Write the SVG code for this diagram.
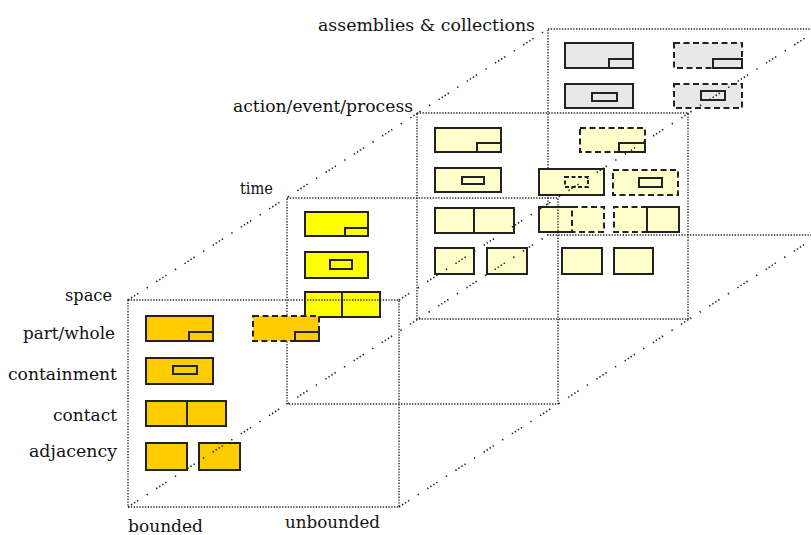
<svg xmlns="http://www.w3.org/2000/svg" width="811" height="535" viewBox="0 0 811 535">
<style>
.frame{fill:none;stroke:#222;stroke-width:1.4;stroke-dasharray:1.3 1.5}
.diag{fill:none;stroke:#222;stroke-width:1.6;stroke-dasharray:1.4 2.2 1.4 2.2 1.4 2.2 1.4 10 1.4 10}
.s{stroke:#222;stroke-width:2;fill:none}
.d{stroke:#222;stroke-width:2;fill:none;stroke-dasharray:6 3.5}
.orange{fill:#FFCC00}
.yellow{fill:#FFFF00}
.pale{fill:#FFFFCC}
.gray{fill:#E8E8E8}
text{font-family:"DejaVu Serif","Liberation Serif",serif;font-size:16px;fill:#111}
</style>
<rect width="811" height="535" fill="#fff"/>

<!-- assemblies & collections plane -->
<rect id="frame-assemblies" class="frame" x="548" y="29" width="271" height="206"/>
<g id="asm-partwhole-bounded">
<rect class="gray s" x="565" y="43" width="68" height="25"/>
<rect class="gray s" x="609" y="59" width="24" height="9"/>
</g>
<g id="asm-containment-bounded">
<rect class="gray s" x="565" y="84" width="68" height="24"/>
<rect class="gray s" x="592" y="93" width="25" height="8"/>
</g>
<g id="asm-partwhole-unbounded">
<rect class="gray d" x="674" y="43" width="68" height="25"/>
<rect class="gray s" x="713" y="59" width="29" height="9"/>
</g>
<g id="asm-containment-unbounded">
<rect class="gray d" x="674" y="84" width="68" height="24"/>
<rect class="gray s" x="701" y="91" width="24" height="9"/>
</g>

<!-- action/event/process plane -->
<rect id="frame-action" class="frame" x="417" y="113" width="271" height="206"/>
<g id="act-partwhole-bounded">
<rect class="pale s" x="435" y="128" width="66" height="24"/>
<rect class="pale s" x="477" y="143" width="24" height="9"/>
</g>
<g id="act-containment-bounded">
<rect class="pale s" x="435" y="168" width="66" height="24"/>
<rect class="pale s" x="462" y="177" width="22" height="7"/>
</g>
<g id="act-contact-bounded">
<rect class="pale s" x="435" y="208" width="79" height="25"/>
<line class="s" x1="474" y1="208" x2="474" y2="233"/>
</g>
<g id="act-adjacency-bounded">
<rect class="pale s" x="435" y="248" width="39" height="26"/>
<rect class="pale s" x="487" y="248" width="40" height="26"/>
</g>
<g id="act-partwhole-unbounded">
<rect class="pale d" x="580" y="128" width="65" height="24"/>
<rect class="pale s" x="619" y="143" width="26" height="9"/>
</g>
<g id="act-containment-unbounded-a">
<rect class="pale s" x="539" y="169" width="65" height="26"/>
<rect class="pale d" x="565" y="177" width="23" height="10" style="stroke-dasharray:4 2.5"/>
</g>
<g id="act-containment-unbounded-b">
<rect class="pale d" x="613" y="170" width="65" height="25"/>
<rect class="pale s" x="639" y="178" width="23" height="9"/>
</g>
<g id="act-contact-unbounded-a">
<rect class="pale" x="539" y="207" width="65" height="25"/>
<path class="d" d="M572,207 H604 V232 H572 Z"/>
<path class="s" d="M572,207 H539 V232 H572"/>
</g>
<g id="act-contact-unbounded-b">
<rect class="pale" x="614" y="207" width="65" height="25"/>
<path class="d" d="M647,207 H614 V232 H647"/>
<path class="s" d="M647,207 H679 V232 H647 Z"/>
</g>
<g id="act-adjacency-unbounded">
<rect class="pale s" x="562" y="248" width="40" height="26"/>
<rect class="pale s" x="614" y="248" width="39" height="26"/>
</g>

<!-- time plane -->
<rect id="frame-time" class="frame" x="287" y="198" width="271" height="206"/>
<g id="time-partwhole">
<rect class="yellow s" x="305" y="212" width="63" height="24"/>
<rect class="yellow s" x="345" y="228" width="23" height="8"/>
</g>
<g id="time-containment">
<rect class="yellow s" x="305" y="252" width="63" height="26"/>
<rect class="yellow s" x="330" y="260" width="22" height="9"/>
</g>
<g id="time-contact">
<rect class="yellow s" x="305" y="292" width="75" height="25"/>
<line class="s" x1="342" y1="292" x2="342" y2="317"/>
</g>

<!-- space plane -->
<rect id="frame-space" class="frame" x="128" y="300" width="271" height="207"/>
<g id="space-partwhole-bounded">
<rect class="orange s" x="146" y="316" width="67" height="25"/>
<rect class="orange s" x="189" y="332" width="24" height="9"/>
</g>
<g id="space-partwhole-unbounded">
<rect class="orange d" x="253" y="316" width="66" height="25"/>
<rect class="orange s" x="295" y="332" width="24" height="9"/>
</g>
<g id="space-containment">
<rect class="orange s" x="146" y="358" width="67" height="26"/>
<rect class="orange s" x="173" y="366" width="24" height="8"/>
</g>
<g id="space-contact">
<rect class="orange s" x="146" y="401" width="80" height="25"/>
<line class="s" x1="187" y1="401" x2="187" y2="426"/>
</g>
<g id="space-adjacency">
<rect class="orange s" x="146" y="443" width="41" height="27"/>
<rect class="orange s" x="199" y="443" width="41" height="27"/>
</g>

<!-- connectors: perspective lines through plane corners -->
<g id="connectors">
<line class="diag" x1="128" y1="300" x2="548" y2="29"/>
<line class="diag" x1="128" y1="507" x2="548" y2="235"/>
<line class="diag" x1="399" y1="300" x2="819" y2="29"/>
<line class="diag" x1="399" y1="507" x2="819" y2="235"/>
</g>

<!-- labels -->
<g id="labels">
<text x="318" y="31" textLength="217" lengthAdjust="spacingAndGlyphs">assemblies &amp; collections</text>
<text x="233" y="112" textLength="180" lengthAdjust="spacingAndGlyphs">action/event/process</text>
<text x="240" y="194" textLength="33" lengthAdjust="spacingAndGlyphs">time</text>
<text x="65" y="301" textLength="47" lengthAdjust="spacingAndGlyphs">space</text>
<text x="23" y="339" textLength="92" lengthAdjust="spacingAndGlyphs">part/whole</text>
<text x="8" y="380" textLength="109" lengthAdjust="spacingAndGlyphs">containment</text>
<text x="53" y="421" textLength="64" lengthAdjust="spacingAndGlyphs">contact</text>
<text x="29" y="457" textLength="88" lengthAdjust="spacingAndGlyphs">adjacency</text>
<text x="128" y="532" textLength="75" lengthAdjust="spacingAndGlyphs">bounded</text>
<text x="285" y="528" textLength="95" lengthAdjust="spacingAndGlyphs">unbounded</text>
</g>
</svg>
